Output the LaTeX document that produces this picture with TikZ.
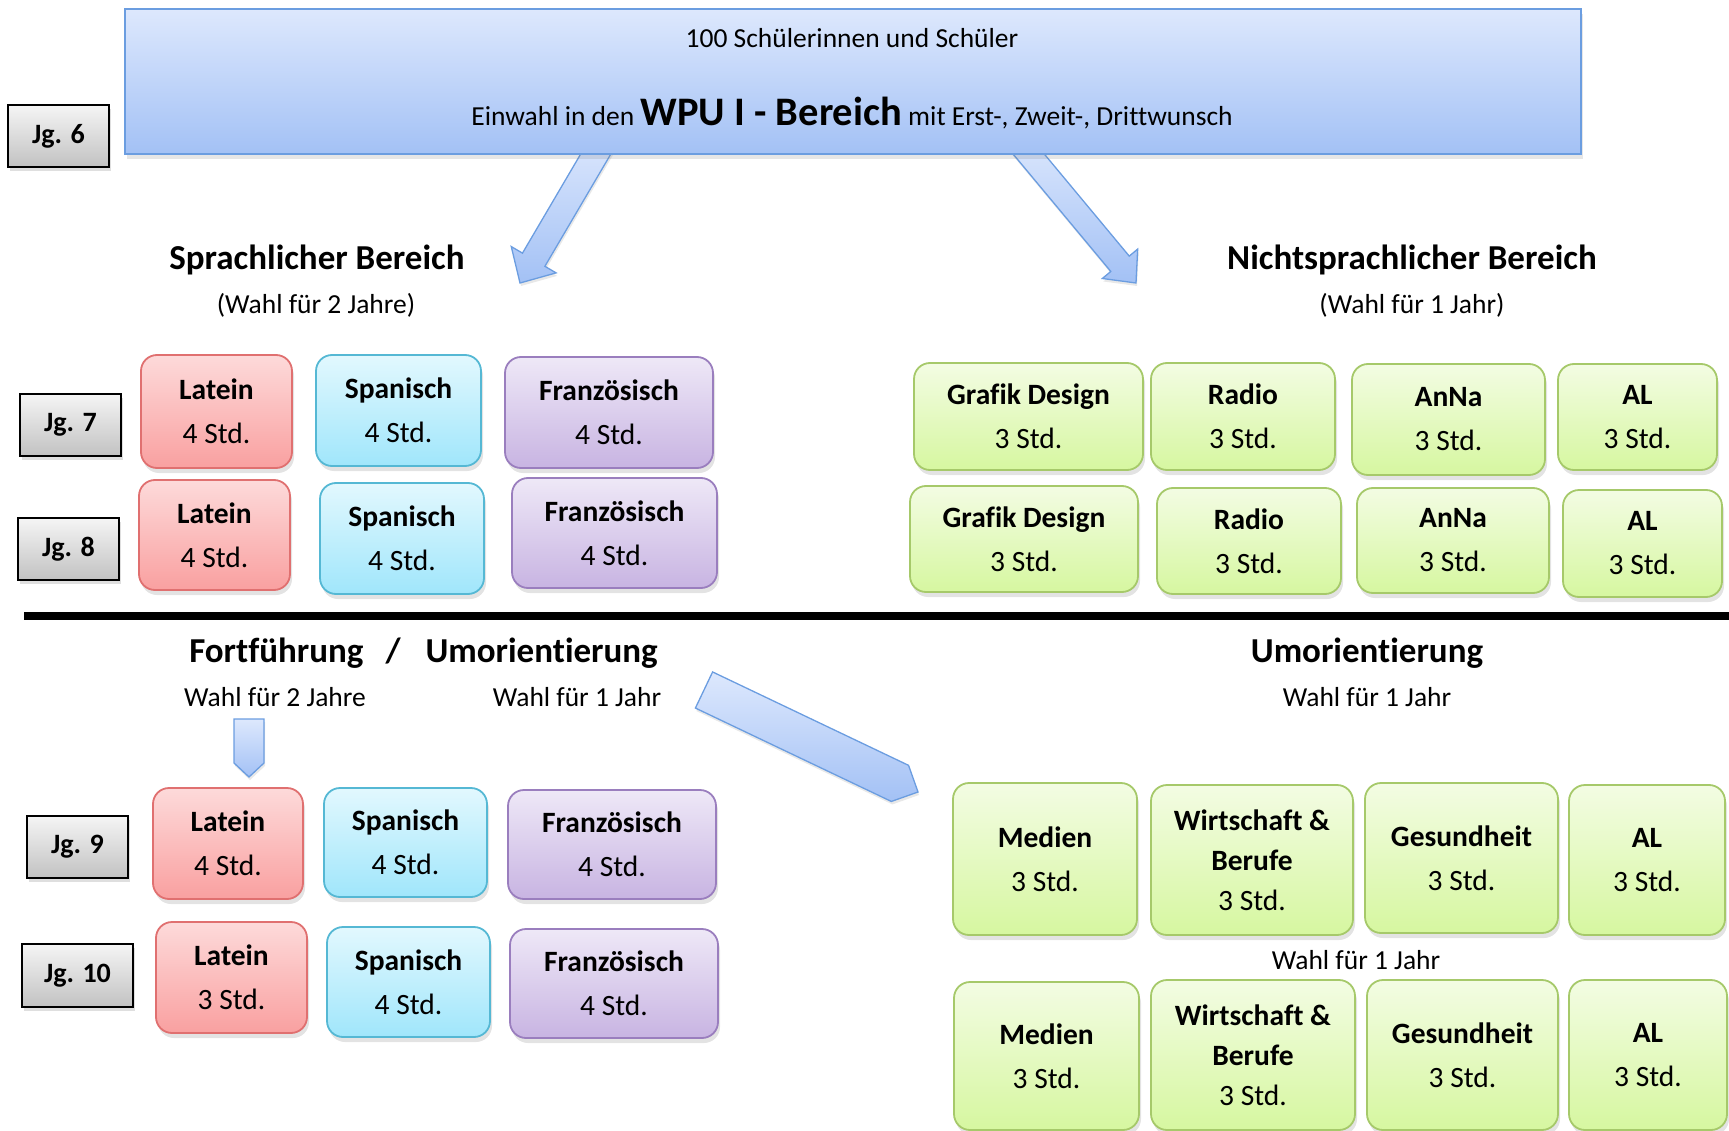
\documentclass[tikz,border=0pt]{standalone}
\usepackage{fontspec}
\setmainfont[Ligatures=NoCommon]{Carlito}
\usepackage{tikz}
\usetikzlibrary{
	calc,
	shadows,
	backgrounds,
	positioning,
	}
\definecolor{wpuoben}{HTML}{DDE8FD}
\definecolor{wpuunten}{HTML}{A3C1F5}
\definecolor{wpurand}{HTML}{6B9DE0}
\definecolor{latoben}{HTML}{FDDADA}
\definecolor{latunten}{HTML}{F9A0A0}
\definecolor{latrand}{HTML}{E07070}
\definecolor{spaoben}{HTML}{E2F8FE}
\definecolor{spaunten}{HTML}{A0E6FB}
\definecolor{sparand}{HTML}{55B8D4}
\definecolor{fraoben}{HTML}{EEE8F7}
\definecolor{fraunten}{HTML}{C8B4E2}
\definecolor{frarand}{HTML}{9A7EBE}
\definecolor{nspoben}{HTML}{F3FCE3}
\definecolor{nspunten}{HTML}{D6F7A0}
\definecolor{nsprand}{HTML}{A6C96A}
\newcommand{\fachfont}{\fontsize{29.5}{44}\selectfont}
\newcommand{\kopffont}{\fontsize{35}{42}\selectfont\bfseries}
\newcommand{\klfont}{\fontsize{27.5}{33}\selectfont}
\newcommand{\jgfont}{\fontsize{28}{33}\selectfont\bfseries}
% block arrow: start, end, half width, head half width, head length
\newcommand{\blockpfeil}[5]{%
	\path ($(#2)!#5!(#1)$) coordinate (bp-h);
	\draw[pfeil] ($(#1)!#3!90:(#2)$) -- ($(bp-h)!#3!90:(#2)$) -- ($(bp-h)!#4!90:(#2)$) -- (#2)
		-- ($(bp-h)!#4!-90:(#2)$) -- ($(bp-h)!#3!-90:(#2)$) -- ($(#1)!#3!-90:(#2)$) -- cycle;
}
\begin{document}
\begin{tikzpicture}[x=1pt,y=-1pt,
	fach/.style={draw,line width=1.8pt,rounded corners=16pt,align=center,font=\fachfont,inner sep=0pt,
		drop shadow={shadow xshift=2pt,shadow yshift=-5pt,opacity=0.22}},
	latein/.style={fach,draw=latrand,top color=latoben,bottom color=latunten},
	spanisch/.style={fach,draw=sparand,top color=spaoben,bottom color=spaunten},
	franz/.style={fach,draw=frarand,top color=fraoben,bottom color=fraunten},
	nsp/.style={fach,draw=nsprand,top color=nspoben,bottom color=nspunten},
	jg/.style={draw=black,line width=1.5pt,top color=gray!8,bottom color=gray!48,font=\jgfont,inner sep=0pt,
		minimum width=101pt,minimum height=62pt,drop shadow={shadow xshift=2pt,shadow yshift=-4pt,opacity=0.25}},
	pfeil/.style={draw=wpurand,line width=1.3pt,line join=miter,top color=wpuoben,bottom color=wpuunten,
		drop shadow={shadow xshift=1pt,shadow yshift=-3pt,opacity=0.18}},
	kopf/.style={font=\kopffont,inner sep=0pt},
	klein/.style={font=\klfont,inner sep=0pt}]
\useasboundingbox (0,0) rectangle (1729,1131);
% Jg. 6
\node[draw=wpurand,line width=1.5pt,top color=wpuoben,bottom color=wpuunten,minimum width=1456pt,minimum height=145pt,
	drop shadow={shadow xshift=2pt,shadow yshift=-5pt,opacity=0.2}] (wahl) at (853,81.5) {};
\node[klein] (anzahl) at (852,38) {100 Schülerinnen und Schüler};
\node[klein] (einwahl) at (852,113) {Einwahl in den {\fontsize{40.5}{45}\selectfont\bfseries WPU I - Bereich} mit Erst-, Zweit-, Drittwunsch};
\node[jg] (jg6) at (58.5,136) {Jg. 6};
\coordinate (sp-a) at (604,140);
\coordinate (sp-b) at (520,283);
\coordinate (nsp-a) at (1017,140);
\coordinate (nsp-b) at (1136,283);
\begin{scope}[on background layer]
\blockpfeil{sp-a}{sp-b}{13pt}{26pt}{27pt}
\blockpfeil{nsp-a}{nsp-b}{12pt}{23pt}{25pt}
\end{scope}
\node[kopf] (sprach) at (317,260) {Sprachlicher Bereich};
\node[klein] (sprach-w) at (316,305) {(Wahl für 2 Jahre)};
\node[kopf] (nsprach) at (1412,260) {Nichtsprachlicher Bereich};
\node[klein] (nsprach-w) at (1412,305) {(Wahl für 1 Jahr)};
% Jg. 7 und 8
\node[jg] (jg7) at (70.5,425) {Jg. 7};
\node[jg] (jg8) at (68.5,549) {Jg. 8};
\node[latein,minimum width=151pt,minimum height=113pt] (lat7) at (216.5,411.5) {\textbf{Latein}\\4 Std.};
\node[spanisch,minimum width=165pt,minimum height=111pt] (spa7) at (398.5,410.5) {\textbf{Spanisch}\\4 Std.};
\node[franz,minimum width=208pt,minimum height=111pt] (fra7) at (609,412.5) {\textbf{Französisch}\\4 Std.};
\node[latein,minimum width=151pt,minimum height=110pt] (lat8) at (214.5,535) {\textbf{Latein}\\4 Std.};
\node[spanisch,minimum width=164pt,minimum height=111pt] (spa8) at (402,538.5) {\textbf{Spanisch}\\4 Std.};
\node[franz,minimum width=205pt,minimum height=110pt] (fra8) at (614.5,533) {\textbf{Französisch}\\4 Std.};
\node[nsp,minimum width=229pt,minimum height=107pt] (gd7) at (1028.5,416.5) {\textbf{Grafik Design}\\3 Std.};
\node[nsp,minimum width=184pt,minimum height=107pt] (rad7) at (1243,416.5) {\textbf{Radio}\\3 Std.};
\node[nsp,minimum width=193pt,minimum height=111pt] (anna7) at (1448.5,419.5) {\textbf{AnNa}\\3 Std.};
\node[nsp,minimum width=159pt,minimum height=106pt] (al7) at (1637.5,417) {\textbf{AL}\\3 Std.};
\node[nsp,minimum width=228pt,minimum height=106pt] (gd8) at (1024,539) {\textbf{Grafik Design}\\3 Std.};
\node[nsp,minimum width=184pt,minimum height=106pt] (rad8) at (1249,541) {\textbf{Radio}\\3 Std.};
\node[nsp,minimum width=192pt,minimum height=105pt] (anna8) at (1453,540.5) {\textbf{AnNa}\\3 Std.};
\node[nsp,minimum width=159pt,minimum height=107pt] (al8) at (1642.5,543.5) {\textbf{AL}\\3 Std.};
% Trennlinie
\coordinate (trenn-l) at (24,616);
\coordinate (trenn-r) at (1729,616);
\draw[line width=8pt] (trenn-l) -- (trenn-r);
% Jg. 9 und 10
\node[kopf] (fort) at (423.5,653) {Fortführung\hspace{22pt}/\hspace{25pt}Umorientierung};
\node[klein] (fort-w) at (275,697) {Wahl für 2 Jahre};
\node[klein] (umo-w) at (577,697) {Wahl für 1 Jahr};
\node[kopf] (umo) at (1367,653) {Umorientierung};
\node[klein] (umo-w2) at (1367,697) {Wahl für 1 Jahr};
\coordinate (fort-a) at (249,719);
\coordinate (fort-b) at (249,777);
\coordinate (umo-a) at (704,690);
\coordinate (umo-b) at (918,792);
\blockpfeil{fort-a}{fort-b}{15pt}{15pt}{14pt}
\blockpfeil{umo-a}{umo-b}{20pt}{20pt}{20pt}
\node[jg] (jg9) at (77.5,847) {Jg. 9};
\node[jg,minimum width=111pt,minimum height=63pt] (jg10) at (77.5,975.5) {Jg. 10};
\node[latein,minimum width=150pt,minimum height=111pt] (lat9) at (228,843.5) {\textbf{Latein}\\4 Std.};
\node[spanisch,minimum width=163pt,minimum height=109pt] (spa9) at (405.5,842.5) {\textbf{Spanisch}\\4 Std.};
\node[franz,minimum width=208pt,minimum height=109pt] (fra9) at (612,844.5) {\textbf{Französisch}\\4 Std.};
\node[latein,minimum width=151pt,minimum height=111pt] (lat10) at (231.5,977.5) {\textbf{Latein}\\3 Std.};
\node[spanisch,minimum width=163pt,minimum height=110pt] (spa10) at (408.5,982) {\textbf{Spanisch}\\4 Std.};
\node[franz,minimum width=208pt,minimum height=109pt] (fra10) at (614,983.5) {\textbf{Französisch}\\4 Std.};
\node[nsp,minimum width=184pt,minimum height=152pt] (med9) at (1045,859) {\textbf{Medien}\\3 Std.};
\node[nsp,minimum width=202pt,minimum height=150pt] (wib9) at (1252,860) {\textbf{Wirtschaft \&}\\[-4pt]\textbf{Berufe}\\[-4pt]3 Std.};
\node[nsp,minimum width=193pt,minimum height=150pt] (ges9) at (1461.5,858) {\textbf{Gesundheit}\\3 Std.};
\node[nsp,minimum width=156pt,minimum height=150pt] (al9) at (1647,860) {\textbf{AL}\\3 Std.};
\node[klein] (mitte-w) at (1356,960) {Wahl für 1 Jahr};
\node[nsp,minimum width=185pt,minimum height=148pt] (med10) at (1046.5,1056) {\textbf{Medien}\\3 Std.};
\node[nsp,minimum width=204pt,minimum height=150pt] (wib10) at (1253,1055) {\textbf{Wirtschaft \&}\\[-4pt]\textbf{Berufe}\\[-4pt]3 Std.};
\node[nsp,minimum width=191pt,minimum height=150pt] (ges10) at (1462.5,1055) {\textbf{Gesundheit}\\3 Std.};
\node[nsp,minimum width=158pt,minimum height=150pt] (al10) at (1648,1055) {\textbf{AL}\\3 Std.};
\end{tikzpicture}
\end{document}
